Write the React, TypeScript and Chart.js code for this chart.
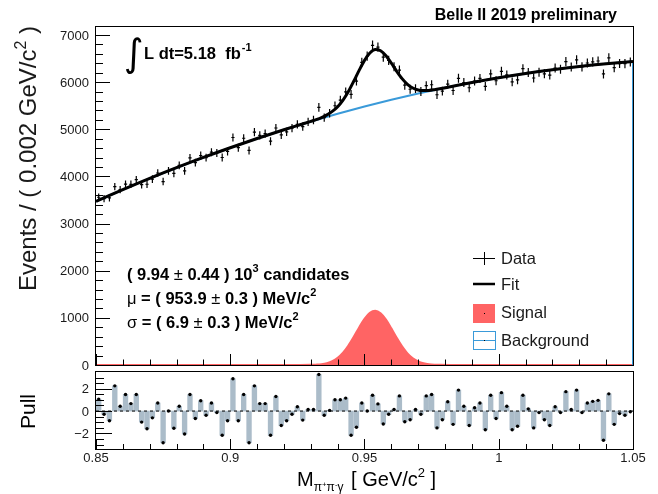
import React, { useEffect, useRef } from "react";
import { Chart, registerables } from "chart.js";

Chart.register(...registerables);

const X_MIN = 0.85;
const X_MAX = 1.05;
const BIN_W = 0.002;
const Y_MAX = 7170;
const PULL_MIN = -3.4;
const PULL_MAX = 3.5;

// Events per 0.002 GeV/c^2 bin (100 bins, 0.85 - 1.05)
const counts = [
  3559, 3529, 3544, 3783, 3721, 3835, 3833, 3932, 3825, 3834,
  3943, 4073, 3892, 4118, 4064, 4236, 4118, 4392, 4294, 4443,
  4399, 4514, 4498, 4402, 4530, 4826, 4610, 4810, 4551, 4942,
  4871, 4909, 4747, 5027, 4880, 4946, 5023, 5106, 5056, 5158,
  5197, 5465, 5248, 5342, 5500, 5620, 5795, 5741, 6021, 6418,
  6550, 6782, 6742, 6529, 6463, 6328, 6255, 5935, 5850, 5862,
  5802, 5925, 5945, 5733, 5808, 5957, 5823, 6082, 5992, 5881,
  6024, 6079, 5912, 6174, 6030, 6230, 6154, 6006, 6049, 6285,
  6206, 6088, 6212, 6177, 6151, 6299, 6272, 6435, 6322, 6473,
  6325, 6406, 6429, 6449, 6174, 6516, 6309, 6395, 6393, 6427,
];

// Pull per bin
const pulls = [
  1.07, -0.29, -0.87, 2.26, 0.43, 1.48, 0.67, 1.48, -0.99, -1.59,
  -0.61, 0.72, -2.84, 0.0, -1.54, 0.43, -2.06, 1.48, -0.67, 0.93,
  -0.38, 0.72, -0.14, -2.17, -0.87, 2.9, -0.87, 1.48, -2.84, 2.26,
  0.67, 0.67, -2.17, 1.3, -1.3, -0.87, -0.29, 0.38, -0.81, 0.14,
  0.14, 3.28, -0.38, 0.06, 1.01, 1.01, 1.16, -2.17, -1.45, 0.72,
  0.0, 1.42, 0.64, -1.16, -0.29, 0.14, 1.36, -0.96, -0.78, 0.14,
  -0.29, 1.36, 1.48, -1.51, -0.78, 0.84, -1.19, 1.88, 0.43, -1.3,
  0.29, 0.72, -1.68, 1.42, -0.67, 1.65, 0.43, -1.68, -1.36, 1.42,
  0.2, -1.51, -0.14, -0.78, -1.3, 0.38, -0.14, 1.74, 0.14, 1.88,
  -0.14, 0.72, 0.87, 0.96, -2.61, 1.54, -1.19, -0.23, -0.38, -0.06,
];

// Background curve
const bkgX = [0.85, 0.86, 0.87, 0.88, 0.89, 0.9, 0.91, 0.92, 0.93, 0.94, 0.95,
  0.96, 0.97, 0.98, 0.99, 1.0, 1.01, 1.02, 1.03, 1.04, 1.05];
const bkgY = [3470, 3719, 3958, 4185, 4403, 4609, 4805, 4990, 5165, 5329, 5483,
  5626, 5758, 5880, 5991, 6092, 6182, 6261, 6330, 6388, 6436];

// Signal curve
const sigX = [0.85, 0.926, 0.93, 0.932, 0.934, 0.936, 0.938, 0.94, 0.942, 0.944,
  0.946, 0.948, 0.95, 0.952, 0.954, 0.956, 0.958, 0.96, 0.962, 0.964, 0.966,
  0.968, 0.97, 0.972, 0.974, 0.976, 0.978, 0.982, 1.05];
const sigY = [0, 0, 3, 8, 18, 40, 81, 151, 260, 411, 597, 797, 979, 1106, 1149,
  1097, 963, 777, 577, 394, 247, 142, 75, 37, 17, 7, 3, 0, 0];

// Total fit curve
const fitX = [0.85, 0.86, 0.87, 0.88, 0.89, 0.9, 0.91, 0.92, 0.926, 0.93, 0.932,
  0.934, 0.936, 0.938, 0.94, 0.942, 0.944, 0.946, 0.948, 0.95, 0.952, 0.954,
  0.956, 0.958, 0.96, 0.962, 0.964, 0.966, 0.968, 0.97, 0.972, 0.974, 0.976,
  0.978, 0.982, 0.99, 1.0, 1.01, 1.02, 1.03, 1.04, 1.05];
const fitY = [3470, 3719, 3958, 4185, 4403, 4609, 4805, 4990, 5097, 5168, 5206,
  5250, 5305, 5379, 5480, 5621, 5803, 6020, 6250, 6462, 6619, 6691, 6667, 6561,
  6403, 6230, 6074, 5954, 5875, 5833, 5821, 5825, 5840, 5859, 5903, 5991, 6092,
  6182, 6261, 6330, 6388, 6436];

const yTickValues = [0, 1000, 2000, 3000, 4000, 5000, 6000, 7000];
const xTickLabels = ["0.85", "0.9", "0.95", "1", "1.05"];
const xTickValues = [0.85, 0.9, 0.95, 1.0, 1.05];
const pullTickValues = [2, 0, -2];
const pullTickLabels = ["2", "0", "\u22122"];

const FONT = "'Liberation Sans', Arial, Helvetica, sans-serif";
const SIG_COLOR = "#ff6464";
const BKG_COLOR = "#3a9ad9";
const PULL_COLOR = "#abbcc9";
const TXT = "#1a1a1a";

const binCenters = counts.map((_, i) => X_MIN + BIN_W * (i + 0.5));

type Seg = { t: string; size: number; bold?: boolean; dy?: number; family?: string };

function drawSegs(ctx: CanvasRenderingContext2D, segs: Seg[], x: number, y: number) {
  let cx = x;
  ctx.textBaseline = "alphabetic";
  ctx.textAlign = "left";
  for (const s of segs) {
    ctx.font = `${s.bold ? "bold " : ""}${s.size}px ${s.family || FONT}`;
    ctx.fillText(s.t, cx, y + (s.dy || 0));
    cx += ctx.measureText(s.t).width;
  }
  return cx;
}

const mainPlugin = {
  id: "mainDeco",
  afterDatasetsDraw(chart: any) {
    const { ctx, chartArea: a, scales } = chart;
    const xs = scales.x;
    const ys = scales.y;
    ctx.save();
    // data error bars
    const meta = chart.getDatasetMeta(4);
    ctx.strokeStyle = "#000";
    ctx.lineWidth = 1.2;
    meta.data.forEach((pt: any, i: number) => {
      const v = counts[i];
      const e = Math.sqrt(v);
      const yT = ys.getPixelForValue(v + e);
      const yB = ys.getPixelForValue(v - e);
      ctx.beginPath();
      ctx.moveTo(pt.x, yT - 0.8);
      ctx.lineTo(pt.x, yB + 0.8);
      ctx.moveTo(pt.x - 1.6, pt.y);
      ctx.lineTo(pt.x + 1.6, pt.y);
      ctx.stroke();
    });

    // frame
    ctx.lineWidth = 1;
    ctx.strokeStyle = "#000";
    ctx.strokeRect(a.left - 0.5, a.top - 0.5, a.right - a.left + 1, a.bottom - a.top + 1);

    // y ticks
    ctx.beginPath();
    for (let k = 0; k <= 35; k++) {
      const v = k * 200;
      const y = Math.round(ys.getPixelForValue(v)) + 0.5;
      const len = k % 5 === 0 ? 14 : 7;
      ctx.moveTo(a.left, y);
      ctx.lineTo(a.left + len, y);
    }
    // x ticks (bottom, inward)
    for (let k = 0; k <= 20; k++) {
      const v = X_MIN + k * 0.01;
      const x = Math.round(xs.getPixelForValue(v)) + 0.5;
      const len = k % 5 === 0 ? 11 : 5.5;
      ctx.moveTo(x, a.bottom);
      ctx.lineTo(x, a.bottom - len);
    }
    ctx.stroke();

    // y tick labels
    ctx.fillStyle = TXT;
    ctx.font = `13px ${FONT}`;
    ctx.textAlign = "right";
    ctx.textBaseline = "middle";
    yTickValues.forEach((v) => {
      ctx.fillText(String(v), a.left - 7, ys.getPixelForValue(v) + 1);
    });

    // y title (rotated)
    ctx.save();
    const ySegs: Seg[] = [
      { t: "Events / ( 0.002 GeV/c", size: 24 },
      { t: "2", size: 16, dy: -10 },
      { t: " )", size: 24 },
    ];
    ctx.translate(36, 291);
    ctx.rotate(-Math.PI / 2);
    drawSegs(ctx, ySegs, 0, 0);
    ctx.restore();

    // Belle II label
    ctx.fillStyle = "#000";
    ctx.font = `bold 16px ${FONT}`;
    ctx.textAlign = "right";
    ctx.textBaseline = "alphabetic";
    ctx.fillText("Belle II 2019 preliminary", 617, 20);

    // integral luminosity
    ctx.font = `38px 'DejaVu Sans', ${FONT}`;
    ctx.textAlign = "left";
    ctx.fillText("\u222B", 124, 66);
    const xe = drawSegs(ctx, [{ t: "L dt=5.18  fb", size: 16.5, bold: true }], 144, 59);
    drawSegs(ctx, [{ t: "-1", size: 11, bold: true, dy: -8 }], xe + 1, 59);

    // fit results
    drawSegs(ctx, [
      { t: "( 9.94 ", size: 16.5, bold: true },
      { t: "\u00B1", size: 16.5 },
      { t: " 0.44 ) 10", size: 16.5, bold: true },
      { t: "3", size: 11, bold: true, dy: -8 },
      { t: " candidates", size: 16.5, bold: true },
    ], 127, 280);
    drawSegs(ctx, [
      { t: "\u03BC", size: 16.5 },
      { t: " = ( 953.9 ", size: 16.5, bold: true },
      { t: "\u00B1", size: 16.5 },
      { t: " 0.3 ) MeV/c", size: 16.5, bold: true },
      { t: "2", size: 11, bold: true, dy: -8 },
    ], 127, 304);
    drawSegs(ctx, [
      { t: "\u03C3", size: 16.5 },
      { t: " = ( 6.9 ", size: 16.5, bold: true },
      { t: "\u00B1", size: 16.5 },
      { t: " 0.3 ) MeV/c", size: 16.5, bold: true },
      { t: "2", size: 11, bold: true, dy: -8 },
    ], 127, 328);

    // legend
    ctx.strokeStyle = "#000";
    ctx.lineWidth = 1;
    ctx.beginPath();
    ctx.moveTo(473, 258.5);
    ctx.lineTo(495, 258.5);
    ctx.moveTo(484.5, 252);
    ctx.lineTo(484.5, 265);
    ctx.stroke();
    ctx.lineWidth = 2.5;
    ctx.beginPath();
    ctx.moveTo(473, 284);
    ctx.lineTo(495, 284);
    ctx.stroke();
    ctx.fillStyle = SIG_COLOR;
    ctx.fillRect(473, 304, 22, 19);
    ctx.fillStyle = "#000";
    ctx.fillRect(484, 313, 1, 1);
    ctx.strokeStyle = BKG_COLOR;
    ctx.lineWidth = 1;
    ctx.strokeRect(473.5, 331.5, 22, 18);
    ctx.beginPath();
    ctx.moveTo(473.5, 340.5);
    ctx.lineTo(495.5, 340.5);
    ctx.stroke();
    ctx.fillStyle = "#000";
    ctx.fillRect(484, 340, 1, 1);

    ctx.fillStyle = TXT;
    ctx.font = `16.5px ${FONT}`;
    ctx.textAlign = "left";
    ctx.textBaseline = "middle";
    ctx.fillText("Data", 501, 259);
    ctx.fillText("Fit", 501, 285);
    ctx.fillText("Signal", 501, 313);
    ctx.fillText("Background", 501, 341);
    ctx.restore();
  },
};

const pullPlugin = {
  id: "pullDeco",
  afterDatasetsDraw(chart: any) {
    const { ctx, chartArea: a, scales } = chart;
    const xs = scales.x;
    const ys = scales.y;
    ctx.save();
    ctx.strokeStyle = "#000";
    ctx.lineWidth = 1;
    ctx.strokeRect(a.left - 0.5, a.top - 0.5, a.right - a.left + 1, a.bottom - a.top + 1);
    ctx.beginPath();
    for (let k = -6; k <= 6; k++) {
      const v = k * 0.5;
      const y = Math.round(ys.getPixelForValue(v)) + 0.5;
      const len = k % 4 === 0 ? 16 : 8;
      ctx.moveTo(a.left, y);
      ctx.lineTo(a.left + len, y);
    }
    for (let k = 0; k <= 20; k++) {
      const v = X_MIN + k * 0.01;
      const x = Math.round(xs.getPixelForValue(v)) + 0.5;
      const len = k % 5 === 0 ? 10 : 5;
      ctx.moveTo(x, a.bottom);
      ctx.lineTo(x, a.bottom - len);
    }
    ctx.stroke();

    ctx.fillStyle = TXT;
    ctx.font = `13px ${FONT}`;
    ctx.textAlign = "right";
    ctx.textBaseline = "middle";
    pullTickValues.forEach((v, i) => {
      ctx.fillText(pullTickLabels[i], a.left - 7, ys.getPixelForValue(v) + 1);
    });
    ctx.textAlign = "center";
    ctx.textBaseline = "top";
    xTickValues.forEach((v, i) => {
      ctx.fillText(xTickLabels[i], xs.getPixelForValue(v), a.bottom + 3);
    });

    // x title
    ctx.fillStyle = "#000";
    let cx = drawSegs(ctx, [{ t: "M", size: 20 }], 297, 486);
    cx = drawSegs(ctx, [{ t: "\u03C0", size: 12 }], cx, 491);
    cx = drawSegs(ctx, [{ t: "+", size: 8, dy: -4 }], cx, 491);
    cx = drawSegs(ctx, [{ t: "\u03C0", size: 12 }], cx, 491);
    cx = drawSegs(ctx, [{ t: "-", size: 8, dy: -4 }], cx, 491);
    cx = drawSegs(ctx, [{ t: "\u03B3", size: 12 }], cx, 491);
    cx = drawSegs(ctx, [{ t: " [ GeV/c", size: 20 }], cx + 2, 486);
    cx = drawSegs(ctx, [{ t: "2", size: 13, dy: -9 }], cx, 486);
    drawSegs(ctx, [{ t: " ]", size: 20 }], cx, 486);

    // y title
    ctx.save();
    ctx.translate(35, 429);
    ctx.rotate(-Math.PI / 2);
    drawSegs(ctx, [{ t: "Pull", size: 21 }], 0, 0);
    ctx.restore();
    ctx.restore();
  },
};

export default function App() {
  const mainRef = useRef<HTMLCanvasElement | null>(null);
  const pullRef = useRef<HTMLCanvasElement | null>(null);

  useEffect(() => {
    if (!mainRef.current || !pullRef.current) return;
    const pts = (xa: number[], ya: number[]) => xa.map((x, i) => ({ x, y: ya[i] }));

    const main = new Chart(mainRef.current, {
      type: "line",
      data: {
        datasets: [
          {
            label: "Signal",
            data: pts(sigX, sigY),
            borderColor: SIG_COLOR,
            backgroundColor: SIG_COLOR,
            fill: "origin",
            borderWidth: 2,
            pointRadius: 0,
            cubicInterpolationMode: "monotone",
            order: 4,
          },
          {
            label: "Background",
            data: pts(bkgX, bkgY),
            borderColor: BKG_COLOR,
            borderWidth: 2,
            fill: false,
            pointRadius: 0,
            cubicInterpolationMode: "monotone",
            order: 3,
          },
          {
            label: "BackgroundEdge",
            data: [
              { x: bkgX[bkgX.length - 1], y: bkgY[bkgY.length - 1] },
              { x: bkgX[bkgX.length - 1], y: 0 },
            ],
            borderColor: BKG_COLOR,
            borderWidth: 2,
            fill: false,
            pointRadius: 0,
            order: 2,
          },
          {
            label: "Fit",
            data: pts(fitX, fitY),
            borderColor: "#000",
            borderWidth: 3,
            fill: false,
            pointRadius: 0,
            cubicInterpolationMode: "monotone",
            order: 1,
          },
          {
            label: "Data",
            data: pts(binCenters, counts),
            showLine: false,
            pointRadius: 0,
            borderColor: "#000",
            order: 0,
          },
        ],
      } as any,
      options: {
        responsive: false,
        animation: false,
        layout: { padding: { left: 96, top: 27, right: 25, bottom: 129 } },
        scales: {
          x: { type: "linear", min: X_MIN, max: X_MAX, display: false },
          y: { type: "linear", min: 0, max: Y_MAX, display: false },
        },
        plugins: { legend: { display: false }, tooltip: { enabled: false } },
      } as any,
      plugins: [mainPlugin],
    });

    const pull = new Chart(pullRef.current, {
      type: "bar",
      data: {
        datasets: [
          {
            type: "scatter",
            label: "PullPoints",
            data: pts(binCenters, pulls),
            pointRadius: 1.7,
            backgroundColor: "#000",
            borderWidth: 0,
            order: 0,
          },
          {
            type: "line",
            label: "Zero",
            data: [{ x: X_MIN, y: 0 }, { x: X_MAX, y: 0 }],
            borderColor: "#000",
            borderWidth: 1,
            borderDash: [3, 3],
            pointRadius: 0,
            order: 1,
          },
          {
            type: "bar",
            label: "Pull",
            data: pts(binCenters, pulls),
            backgroundColor: PULL_COLOR,
            barThickness: 4.7,
            order: 2,
          },
        ],
      } as any,
      options: {
        responsive: false,
        animation: false,
        layout: { padding: { left: 96, top: 372, right: 25, bottom: 45 } },
        scales: {
          x: { type: "linear", min: X_MIN, max: X_MAX, display: false, offset: false },
          y: { type: "linear", min: PULL_MIN, max: PULL_MAX, display: false },
        },
        plugins: { legend: { display: false }, tooltip: { enabled: false } },
      } as any,
      plugins: [pullPlugin],
    });

    return () => {
      main.destroy();
      pull.destroy();
    };
  }, []);

  return (
    <div style={{ position: "fixed", left: 0, top: 0, width: 658, height: 494, background: "#fff" }}>
      <canvas ref={mainRef} width={658} height={494} style={{ position: "absolute", left: 0, top: 0 }} />
      <canvas ref={pullRef} width={658} height={494} style={{ position: "absolute", left: 0, top: 0 }} />
    </div>
  );
}
